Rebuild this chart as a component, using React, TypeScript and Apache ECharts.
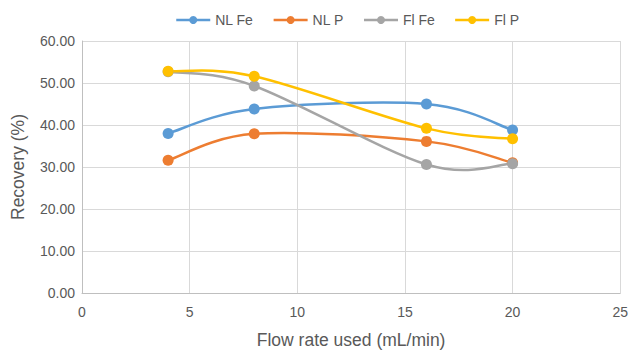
import React, { useEffect, useRef } from "react";
import * as echarts from "echarts";

const flowRates = [4, 8, 16, 20];
const nlFe = [38.0, 43.8, 45.0, 38.8];
const nlP = [31.6, 37.9, 36.1, 31.0];
const flFe = [52.7, 49.3, 30.6, 30.8];
const flP = [52.8, 51.6, 39.2, 36.7];
const seriesNames = ["NL Fe", "NL P", "Fl Fe", "Fl P"];
const seriesColors = ["#5B9BD5", "#ED7D31", "#A5A5A5", "#FFC000"];
const yTicks = [0, 10, 20, 30, 40, 50, 60];

export default function App() {
  const ref = useRef<HTMLDivElement>(null);
  useEffect(() => {
    if (!ref.current) return;
    const chart = echarts.init(ref.current, null, { renderer: "svg" });
    const all = [nlFe, nlP, flFe, flP];
    const font = "'Liberation Sans', 'Open Sans', sans-serif";

    const curveSeries = seriesNames.map((name, i) => ({
      name: name + " curve",
      type: "custom",
      z: 2,
      silent: true,
      data: flowRates.map((x, j) => [x, all[i][j]]),
      renderItem: (params: any, api: any) => {
        if (params.dataIndex !== 0) return null;
        const pts = flowRates.map((x, j) => api.coord([x, all[i][j]]));
        const n = pts.length;
        const children: any[] = [];
        for (let k = 0; k < n - 1; k++) {
          const p0 = pts[Math.max(0, k - 1)];
          const p1 = pts[k];
          const p2 = pts[k + 1];
          const p3 = pts[Math.min(n - 1, k + 2)];
          const c1 = [p1[0] + (p2[0] - p0[0]) / 6, p1[1] + (p2[1] - p0[1]) / 6];
          const c2 = [p2[0] - (p3[0] - p1[0]) / 6, p2[1] - (p3[1] - p1[1]) / 6];
          children.push({
            type: "bezierCurve",
            shape: { x1: p1[0], y1: p1[1], cpx1: c1[0], cpy1: c1[1], cpx2: c2[0], cpy2: c2[1], x2: p2[0], y2: p2[1] },
            style: { stroke: seriesColors[i], lineWidth: 2.5, fill: null, lineCap: "round" },
          });
        }
        return { type: "group", children };
      },
    }));

    const markerSeries = seriesNames.map((name, i) => ({
      name,
      type: "line",
      z: 3,
      symbol: "circle",
      symbolSize: 11,
      color: seriesColors[i],
      lineStyle: { width: 2.5, color: seriesColors[i], opacity: 0 },
      itemStyle: { color: seriesColors[i] },
      data: flowRates.map((x, j) => [x, all[i][j]]),
    }));

    chart.setOption({
      animation: false,
      textStyle: { fontFamily: font },
      legend: {
        top: 8,
        left: 170,
        itemWidth: 34,
        itemHeight: 10,
        itemGap: 19,
        textStyle: { color: "#595959", fontSize: 14, fontFamily: font },
        data: seriesNames.map((name, i) => ({
          name,
          lineStyle: { color: seriesColors[i], width: 2.5, opacity: 1 },
          itemStyle: { color: seriesColors[i] },
        })),
      },
      grid: { left: 82, right: 9, top: 41, bottom: 56, containLabel: false },
      xAxis: {
        type: "value",
        min: 0,
        max: 25,
        interval: 5,
        name: "Flow rate used (mL/min)",
        nameLocation: "middle",
        nameGap: 38,
        nameTextStyle: { color: "#595959", fontSize: 17.5, fontFamily: font },
        axisLine: { show: true, lineStyle: { color: "#BFBFBF", width: 1 } },
        axisTick: { show: false },
        axisLabel: { color: "#595959", fontSize: 14, margin: 12, fontFamily: font },
        splitLine: { show: true, lineStyle: { color: "#D9D9D9", width: 1 } },
      },
      yAxis: {
        type: "value",
        min: yTicks[0],
        max: yTicks[yTicks.length - 1],
        interval: 10,
        name: "Recovery (%)",
        nameLocation: "middle",
        nameGap: 55,
        nameTextStyle: { color: "#595959", fontSize: 17.5, fontFamily: font },
        axisLine: { show: true, lineStyle: { color: "#BFBFBF", width: 1 } },
        axisTick: { show: false },
        axisLabel: {
          color: "#595959",
          fontSize: 14,
          margin: 7,
          fontFamily: font,
          formatter: (v: number) => v.toFixed(2),
        },
        splitLine: { show: true, lineStyle: { color: "#D9D9D9", width: 1 } },
      },
      series: [...curveSeries, ...markerSeries],
    });
    return () => chart.dispose();
  }, []);
  return <div ref={ref} style={{ width: 631, height: 354, position: "absolute", left: 0, top: 0 }} />;
}
